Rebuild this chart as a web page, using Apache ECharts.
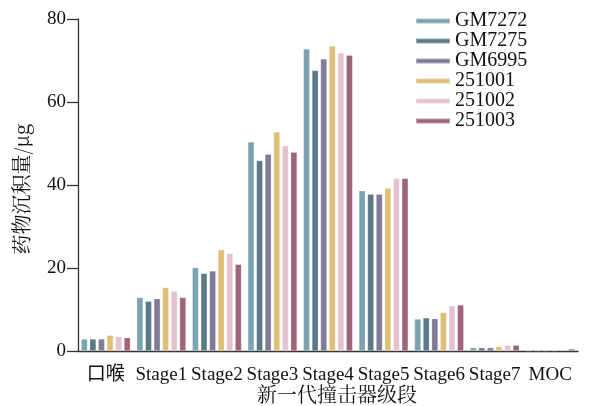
<!DOCTYPE html>
<html><head><meta charset="utf-8">
<script src="https://cdn.jsdelivr.net/npm/echarts@6/dist/echarts.min.js"></script>
<style>html,body{margin:0;padding:0;background:#fff;}#c{width:592px;height:406px;}</style>
</head><body><div id="c"></div>
<script>
const categories = ['口喉','Stage1','Stage2','Stage3','Stage4','Stage5','Stage6','Stage7','MOC'];
const seriesNames = ['GM7272','GM7275','GM6995','251001','251002','251003'];
const colors = ['#7AA3B2','#5A7A88','#7E7B96','#DEBF76','#E4C3CC','#A0637C'];
const GM7272 = [2.9, 12.9, 20.1, 50.4, 72.8, 38.6, 7.7, 0.8, 0.05];
const GM7275 = [2.9, 12.0, 18.7, 45.9, 67.6, 37.8, 8.0, 0.8, 0.05];
const GM6995 = [2.9, 12.6, 19.3, 47.4, 70.4, 37.8, 7.8, 0.8, 0.05];
const S251001 = [3.8, 15.3, 24.4, 52.8, 73.5, 39.2, 9.3, 1.1, 0.1];
const S251002 = [3.5, 14.4, 23.5, 49.5, 71.8, 41.6, 10.9, 1.4, 0.3];
const S251003 = [3.2, 12.9, 20.9, 47.9, 71.3, 41.6, 11.1, 1.4, 0.5];
const yTicks = [0, 20, 40, 60, 80];
const values = [GM7272, GM7275, GM6995, S251001, S251002, S251003];

const font = 'Liberation Serif, Times New Roman, Noto Sans CJK SC, serif';
const cjk = 'Noto Serif CJK SC, Noto Sans CJK SC, serif';
const chart = echarts.init(document.getElementById('c'));
chart.setOption({
  animation: false,
  backgroundColor: '#fff',
  grid: {left: 78, right: 14, top: 19, bottom: 55, containLabel: false, outerBoundsMode: 'none'},
  legend: {
    left: 415, top: 11, orient: 'vertical', padding: 0,
    icon: 'rect', itemWidth: 34, itemHeight: 5, itemGap: 0,
    textStyle: {fontFamily: font, fontSize: 20, color: '#111', lineHeight: 19, padding: [0,0,0,0]},
    data: seriesNames
  },
  xAxis: {
    type: 'category', data: categories,
    axisLine: {lineStyle: {color: '#333', width: 1.3}},
    axisTick: {alignWithLabel: true, length: 11, lineStyle: {color: '#333', width: 1.3}},
    axisLabel: {fontFamily: font, fontSize: 19, color: '#111', margin: 15, interval: 0, hideOverlap: false},
    name: '新一代撞击器级段', nameLocation: 'middle', nameGap: 33, nameMoveOverlap: false,
    nameTextStyle: {fontFamily: cjk, fontSize: 20, color: '#111', padding: [0,0,0,18], verticalAlign: 'top'}
  },
  yAxis: {
    type: 'value', min: 0, max: 80, interval: 20,
    splitLine: {show: false},
    axisLine: {show: true, lineStyle: {color: '#333', width: 1.3}},
    axisTick: {show: true, length: 11, lineStyle: {color: '#333', width: 1.3}},
    axisLabel: {fontFamily: font, fontSize: 19, color: '#111', margin: 12,
      formatter: v => yTicks.includes(v) ? String(v) : ''},
    name: '药物沉积量/μg', nameLocation: 'middle', nameGap: 47, nameMoveOverlap: false,
    nameTextStyle: {fontFamily: cjk, fontSize: 20, color: '#111', padding: [0,8,0,0]}
  },
  series: seriesNames.map((n, i) => ({
    name: n, type: 'bar', data: values[i], barWidth: 6.4, barGap: '34%',
    itemStyle: {color: colors[i], borderColor: 'rgba(255,255,255,0.35)', borderWidth: 0.6}
  }))
});
</script></body></html>
